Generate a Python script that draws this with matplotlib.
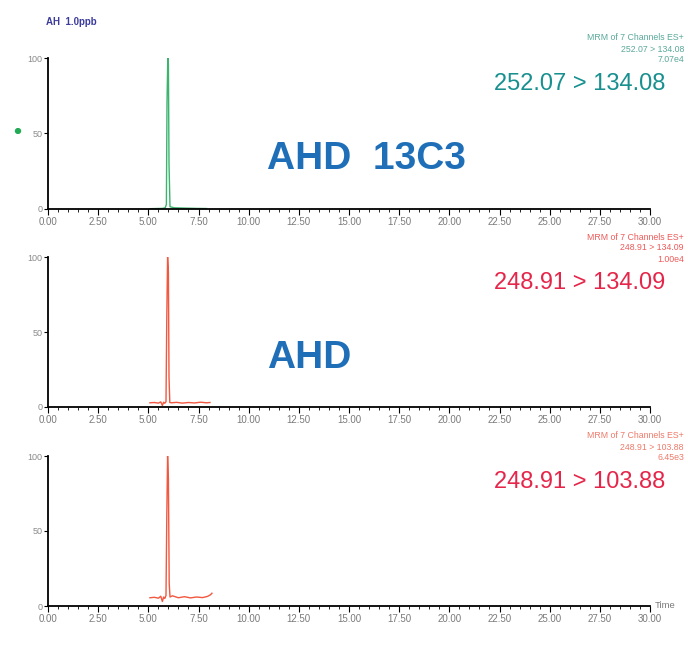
import numpy as np
import matplotlib.pyplot as plt

plt.rcParams['font.family'] = ['Liberation Sans', 'DejaVu Sans']

# retention time (min) and relative intensity (%)
t_13c3 = [5.08, 5.40, 5.70, 5.84, 5.90, 5.93, 5.97, 6.00, 6.03, 6.08, 6.30, 6.80, 7.40, 7.90]
i_13c3 = [0.2, 0.3, 0.4, 0.8, 3.0, 70.0, 100.0, 96.0, 30.0, 1.5, 0.8, 0.6, 0.4, 0.3]

t_134 = [5.08, 5.30, 5.50, 5.62, 5.70, 5.76, 5.82, 5.88, 5.92, 5.96, 6.00, 6.03, 6.07,
         6.15, 6.40, 6.70, 7.00, 7.30, 7.60, 7.90, 8.07]
i_134 = [2.8, 3.0, 2.6, 3.4, 1.0, 3.2, 2.5, 3.5, 60.0, 100.0, 90.0, 20.0, 3.0,
         2.8, 3.1, 2.6, 3.0, 2.7, 3.2, 2.8, 3.0]

t_103 = [5.08, 5.30, 5.50, 5.62, 5.70, 5.76, 5.82, 5.88, 5.92, 5.96, 6.00, 6.04, 6.08,
         6.20, 6.50, 6.80, 7.10, 7.40, 7.70, 7.95, 8.10, 8.17]
i_103 = [5.5, 5.8, 5.2, 6.5, 3.0, 6.0, 5.0, 7.0, 60.0, 100.0, 85.0, 15.0, 6.0,
         6.8, 5.5, 6.2, 5.4, 6.0, 5.6, 6.4, 7.5, 8.5]

channels = ['252.07 > 134.08', '248.91 > 134.09', '248.91 > 103.88']
ch_small = ['252.07 > 134.08', '248.91 > 134.09', '248.91 > 103.88']
ch_scale = ['7.07e4', '1.00e4', '6.45e3']
compounds = ['AHD  13C3', 'AHD', '']

x_ticks = [0, 2.5, 5, 7.5, 10, 12.5, 15, 17.5, 20, 22.5, 25, 27.5, 30]
y_ticks = [0, 50, 100]

trace_colors = ['#3cb46e', '#f2573f', '#f2573f']
label_colors = ['#17908f', '#e5264a', '#e5264a']
small_colors = ['#5aa89a', '#ee5a5a', '#ee7a6a']

W, H = 688, 645
fig = plt.figure(figsize=(W / 100, H / 100), dpi=100)

panels = [(58, 209), (257, 407), (456, 606)]
data = [(t_13c3, i_13c3), (t_134, i_134), (t_103, i_103)]
x0, x1 = 48, 650

for k, (top, bot) in enumerate(panels):
    ax = fig.add_axes([x0 / W, 1 - bot / H, (x1 - x0) / W, (bot - top) / H])
    t, y = data[k]
    ax.plot(t, y, color=trace_colors[k], lw=1.0)
    ax.set_xlim(0, 30)
    ax.set_ylim(0, 100)
    for s in ['top', 'right']:
        ax.spines[s].set_visible(False)
    ax.spines['left'].set_linewidth(1.3)
    ax.spines['bottom'].set_linewidth(1.3)
    ax.set_xticks(x_ticks)
    ax.set_xticklabels(['%.2f' % v for v in x_ticks])
    ax.set_xticks(np.arange(0, 30.01, 0.5), minor=True)
    ax.set_yticks(y_ticks)
    ax.set_yticklabels([str(v) for v in y_ticks])
    ax.tick_params(axis='x', which='major', length=4, width=0.8, labelsize=7,
                   labelcolor='#7a7a7a', pad=1.5)
    ax.tick_params(axis='x', which='minor', length=2, width=0.6)
    ax.tick_params(axis='y', length=3, width=0.8, labelsize=6.5, labelcolor='#8a8a8a', pad=1)

    # instrument header, top right
    fig.text(684 / W, 1 - (top - 20) / H, 'MRM of 7 Channels ES+', ha='right', va='center',
             fontsize=6.3, color=small_colors[k])
    fig.text(684 / W, 1 - (top - 9) / H, ch_small[k], ha='right', va='center',
             fontsize=6.3, color=small_colors[k])
    fig.text(684 / W, 1 - (top + 2) / H, ch_scale[k], ha='right', va='center',
             fontsize=6.3, color=small_colors[k])

    # large channel label
    fig.text(494 / W, 1 - (top + 26) / H, channels[k], ha='left', va='center',
             fontsize=17, color=label_colors[k])

    if compounds[k]:
        fig.text(267 / W, 1 - (top + 101) / H, compounds[k], ha='left', va='center',
                 fontsize=28, fontweight='bold', color='#1f6fb8')

fig.text(46 / W, 1 - 22 / H, 'AH  1.0ppb', ha='left', va='center', fontsize=7,
         fontweight='bold', color='#3c3c9c')
fig.text(655 / W, 1 - 606 / H, 'Time', ha='left', va='center', fontsize=6.8, color='#7a7a7a')
fig.patches.append(plt.Circle((18 / W, 1 - 131 / H), 2.5 / W, color='#22aa55',
                              transform=fig.transFigure, figure=fig))

fig.savefig('out.png', dpi=100)
